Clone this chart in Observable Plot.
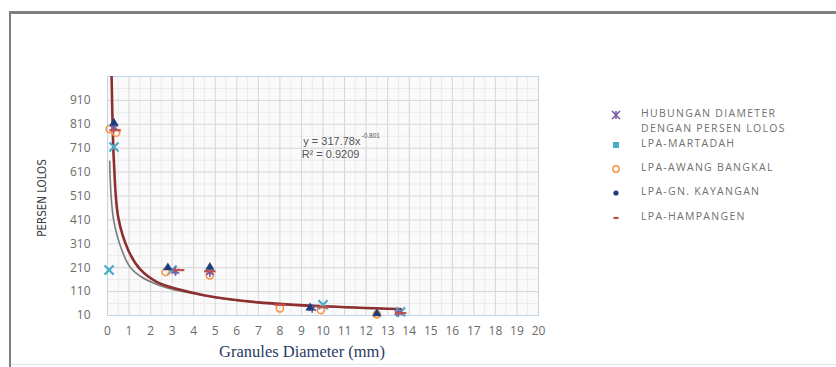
<!DOCTYPE html>
<html>
<head>
<meta charset="utf-8">
<script src="https://cdn.jsdelivr.net/npm/d3@7"></script>
<script src="https://cdn.jsdelivr.net/npm/@observablehq/plot@0.6"></script>
<style>
  html, body { margin: 0; padding: 0; background: #fff; }
  #wrap { position: relative; width: 836px; height: 367px; overflow: hidden; background: #fff; }
  .bl { position: absolute; background: #808080; pointer-events: none; z-index: 5; }
  #chart { position: absolute; left: 0; top: 0; z-index: 1; }
  .lg { position: absolute; left: 641px; font-family: "Open Sans", sans-serif; font-size: 10.5px;
        letter-spacing: 1.3px; color: #707070; line-height: 12px; white-space: nowrap; transform: translateY(-50%); z-index: 3; }
  .lm { position: absolute; left: 610px; width: 12px; height: 12px; transform: translateY(-50%); z-index: 3; }
  #ylab { position: absolute; left: 42px; top: 198px; transform: translate(-50%, -50%) rotate(-90deg); z-index: 3;
          font-family: "DejaVu Sans Condensed", "Liberation Sans Narrow", sans-serif; font-size: 11.5px; color: #404040; white-space: nowrap; }
  #xlab { position: absolute; left: 302px; top: 352px; transform: translate(-50%, -50%); z-index: 3;
          font-family: "Liberation Serif", serif; font-size: 16.5px; color: #2a3b62; white-space: nowrap; }
</style>
</head>
<body>
<div id="wrap">
  <div id="chart"></div>
  <div class="bl" style="left:9px; top:11px; width:827px; height:2.5px;"></div>
  <div class="bl" style="left:9px; top:11px; width:2px; height:356px;"></div>
  <div class="bl" style="left:11px; top:364px; width:825px; height:1px; background:#e2e2e2;"></div>
  <div id="ylab">PERSEN LOLOS</div>
  <div id="xlab">Granules Diameter (mm)</div>
  <div id="legend"></div>
</div>
<script>
// ---------- data ----------
const xTicks = [0,1,2,3,4,5,6,7,8,9,10,11,12,13,14,15,16,17,18,19,20];
const xMinor = [0.5,1.5,2.5,3.5,4.5,5.5,6.5,7.5,8.5,9.5,10.5,11.5,12.5,13.5,14.5,15.5,16.5,17.5,18.5,19.5];
const yTicks = [10,110,210,310,410,510,610,710,810,910,1010];
const yMinor = [60,160,260,360,460,560,660,760,860,960];

const seriesNames = ["HUBUNGAN DIAMETER\nDENGAN PERSEN LOLOS", "LPA-MARTADAH", "LPA-AWANG BANGKAL", "LPA-GN. KAYANGAN", "LPA-HAMPANGEN"];

const hubunganX = [0.3, 3.15, 4.75, 9.5, 13.5];
const hubunganY = [795, 195, 190, 40, 22];
const martadahX = [0.075, 0.3, 3.0, 10.0, 13.6];
const martadahY = [200, 715, 200, 55, 25];
const awangX = [0.1, 0.4, 2.7, 4.75, 8.0, 9.9, 12.5];
const awangY = [790, 775, 192, 178, 40, 33, 15];
const kayanganX = [0.3, 2.8, 4.75, 9.4, 12.5];
const kayanganY = [815, 210, 212, 42, 18];
const hampangenX = [0.35, 3.3, 4.75, 8.0, 10.0, 13.6];
const hampangenY = [785, 200, 195, 55, 45, 20];

// trend curves
const trendRedX = [0.19, 0.24, 0.3, 0.5, 0.97, 1.5, 2.3, 3.85, 5.0, 7.0, 10.0, 13.6];
const trendRedY = [1010, 800, 650, 420, 282, 205, 150, 107, 86, 65, 49, 37];
const trendGrayX = [0.1, 0.28, 0.7, 1.07, 1.6, 2.3, 3.0, 3.85, 5.0, 7.0, 10.0, 13.6];
const trendGrayY = [655, 412, 275, 210, 170, 140, 120, 104, 85, 64, 48, 36];

const equationMain = "y = 317.78x";
const equationExp = "-0.801";
const equationR2 = "R² = 0.9209";
const eqX = 11.74, eqY1 = 740, eqY2 = 682, eqR2X = 10.35;

// ---------- build ----------
const zip = (xs, ys, s) => xs.map((x, i) => ({x, y: ys[i], s}));
const hub = zip(hubunganX, hubunganY, 0);
const mar = zip(martadahX, martadahY, 1);
const awa = zip(awangX, awangY, 2);
const kay = zip(kayanganX, kayanganY, 3);
const ham = zip(hampangenX, hampangenY, 4);
const red = zip(trendRedX, trendRedY);
const gray = zip(trendGrayX, trendGrayY);

const dash = { draw(ctx, size) { const w = Math.sqrt(size) * 0.9; ctx.moveTo(-w, 0); ctx.lineTo(w, 0); } };

const C = { hub: "#7a5aa6", mar: "#4bacc6", awa: "#f79646", kay: "#1f3d7a", ham: "#c0504d" };
const eqFont = "'Liberation Sans', Arial, sans-serif";

const plot = Plot.plot({
  width: 836, height: 367,
  marginLeft: 107, marginRight: 298, marginTop: 76, marginBottom: 52,
  style: { background: "transparent", fontFamily: "'Open Sans', sans-serif", fontSize: "11px", color: "#6a6a6a" },
  x: { domain: [0, 20] },
  y: { domain: [10, 1010] },
  marks: [
    Plot.frame({ fill: "#fafafa" }),
    Plot.gridX(xMinor, { stroke: "#ebebeb", strokeOpacity: 1 }),
    Plot.gridY(yMinor, { stroke: "#ebebeb", strokeOpacity: 1 }),
    Plot.gridX(xTicks, { stroke: "#d6d6d6", strokeOpacity: 1 }),
    Plot.gridY(yTicks, { stroke: "#d6d6d6", strokeOpacity: 1 }),
    Plot.frame({ stroke: "#c3d3e8" }),
    Plot.axisX({ ticks: xTicks, tickSize: 0, tickPadding: 11, label: null, fontSize: 12 }),
    Plot.axisY({ ticks: yTicks.slice(0, 10), tickSize: 0, tickPadding: 17, label: null, fontSize: 12 }),
    Plot.line(gray, { x: "x", y: "y", stroke: "#7a7a7a", strokeWidth: 1.6, curve: "catmull-rom", clip: true }),
    Plot.line(red, { x: "x", y: "y", stroke: "#8e2f2f", strokeWidth: 2.6, curve: "catmull-rom", clip: true }),
    Plot.dot(mar, { x: "x", y: "y", symbol: "times", r: 4.2, stroke: C.mar, strokeWidth: 2.2 }),
    Plot.dot(awa, { x: "x", y: "y", symbol: "circle", r: 3.6, stroke: C.awa, strokeWidth: 1.6, fill: "none" }),
    Plot.dot(hub, { x: "x", y: "y", symbol: "asterisk", r: 4.2, stroke: C.hub, strokeWidth: 1.6 }),
    Plot.dot(kay, { x: "x", y: "y", symbol: "triangle", r: 3.4, fill: C.kay, stroke: "none" }),
    Plot.dot(ham, { x: "x", y: "y", symbol: dash, r: 3.6, stroke: C.ham, strokeWidth: 2.2 }),
    Plot.text([equationMain], { x: eqX, y: eqY1, textAnchor: "end", fontSize: 11, fontFamily: eqFont, fill: "#555" }),
    Plot.text([equationExp], { x: eqX, y: eqY1, textAnchor: "start", fontSize: 6.5, fontFamily: eqFont, dy: -5, dx: 1, fill: "#555" }),
    Plot.text([equationR2], { x: eqR2X, y: eqY2, fontSize: 11, fontFamily: eqFont, fill: "#555" })
  ]
});
document.getElementById("chart").appendChild(plot);

// ---------- legend ----------
const legendTops = [113, 143, 167, 191, 216];
const legendSymbols = [
  `<svg width="12" height="12"><g stroke="${C.hub}" stroke-width="1.6"><line x1="2" y1="2" x2="10" y2="10"/><line x1="10" y1="2" x2="2" y2="10"/><line x1="6" y1="2" x2="6" y2="10"/></g></svg>`,
  `<svg width="12" height="12"><rect x="3" y="3" width="6" height="6" fill="${C.mar}"/></svg>`,
  `<svg width="12" height="12"><circle cx="6" cy="6" r="3.2" fill="none" stroke="${C.awa}" stroke-width="1.5"/></svg>`,
  `<svg width="12" height="12"><circle cx="6" cy="6" r="2.6" fill="${C.kay}"/></svg>`,
  `<svg width="12" height="12"><line x1="3.5" y1="6" x2="8.5" y2="6" stroke="${C.ham}" stroke-width="2.2"/></svg>`
];
const lg = document.getElementById("legend");
seriesNames.forEach((name, i) => {
  const m = document.createElement("div");
  m.className = "lm"; m.style.top = legendTops[i] + "px"; m.innerHTML = legendSymbols[i];
  lg.appendChild(m);
  const lines = name.split("\n");
  lines.forEach((ln, j) => {
    const t = document.createElement("div");
    t.className = "lg"; t.style.top = (legendTops[i] + j * 15) + "px"; t.textContent = ln;
    lg.appendChild(t);
  });
});
</script>
</body>
</html>
